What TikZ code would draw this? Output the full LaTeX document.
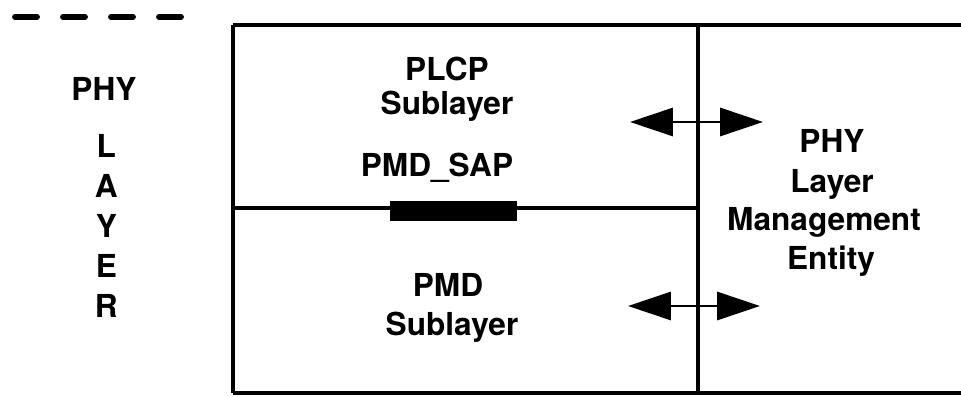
\documentclass[tikz,border=0pt]{standalone}
\usepackage{fontspec}
\setmainfont{TeX Gyre Heros}
\usepackage{tkz-euclide}
\usetikzlibrary{arrows.meta}

\begin{document}
\begin{tikzpicture}[
    frame/.style={line width=3.2pt},
    lbl/.style={anchor=base,inner sep=0pt,font=\fontsize{22.5}{27}\selectfont\bfseries},
    dblarrow/.style={line width=2pt,{Triangle[length=1.07cm,width=0.7cm]}-{Triangle[length=1.07cm,width=0.7cm]}}]
\useasboundingbox (0,0) rectangle (24.025,9.9);
\tkzDefPoints{5.825/9.275/A, 24.025/9.275/B, 5.825/0.075/C, 24.025/0.075/D,
  17.45/9.275/E, 17.45/0.075/F, 5.825/4.7/G, 17.45/4.7/H,
  15.75/6.85/P1, 19.075/6.85/P2, 15.7/2.25/Q1, 19.0/2.25/Q2}

% frame of the layer
\draw[frame] (A) -- (B);
\draw[frame] (C) -- (D);
\draw[frame] (A) -- (C);
\draw[frame] (E) -- (F);
\draw[frame] (G) -- (H);
\fill (9.75,4.875) rectangle (12.925,4.375);

% dashes at the top
\foreach \i in {0,...,3}
  \draw[line width=4.2pt,line cap=round] (0.375+1.2*\i,9.475) -- ++(0.55,0);

\draw[dblarrow] (P1) -- (P2);
\draw[dblarrow] (Q1) -- (Q2);

\node[lbl] (phy) at (2.6,7.375) {PHY};
\foreach \ch [count=\n] in {L,A,Y,E,R}
  \node[lbl] (layer\n) at (2.66,{5.95-(\n-1)*0.995}) {\ch};

\node[lbl] (plcp) at (11.175,7.875) {PLCP};
\node[lbl] (plcpsub) at (11.175,7.025) {Sublayer};
\node[lbl] (sap) at (10.925,5.475) {PMD\_SAP};
\node[lbl] (pmd) at (11.2,2.475) {PMD};
\node[lbl] (pmdsub) at (11.3,1.525) {Sublayer};

\node[lbl] (lmphy) at (20.8,6.075) {PHY};
\node[lbl] (lmlayer) at (20.8,5.075) {Layer};
\node[lbl] (lmman) at (20.6,4.125) {Management};
\node[lbl] (lment) at (20.775,3.175) {Entity};
\end{tikzpicture}
\end{document}
